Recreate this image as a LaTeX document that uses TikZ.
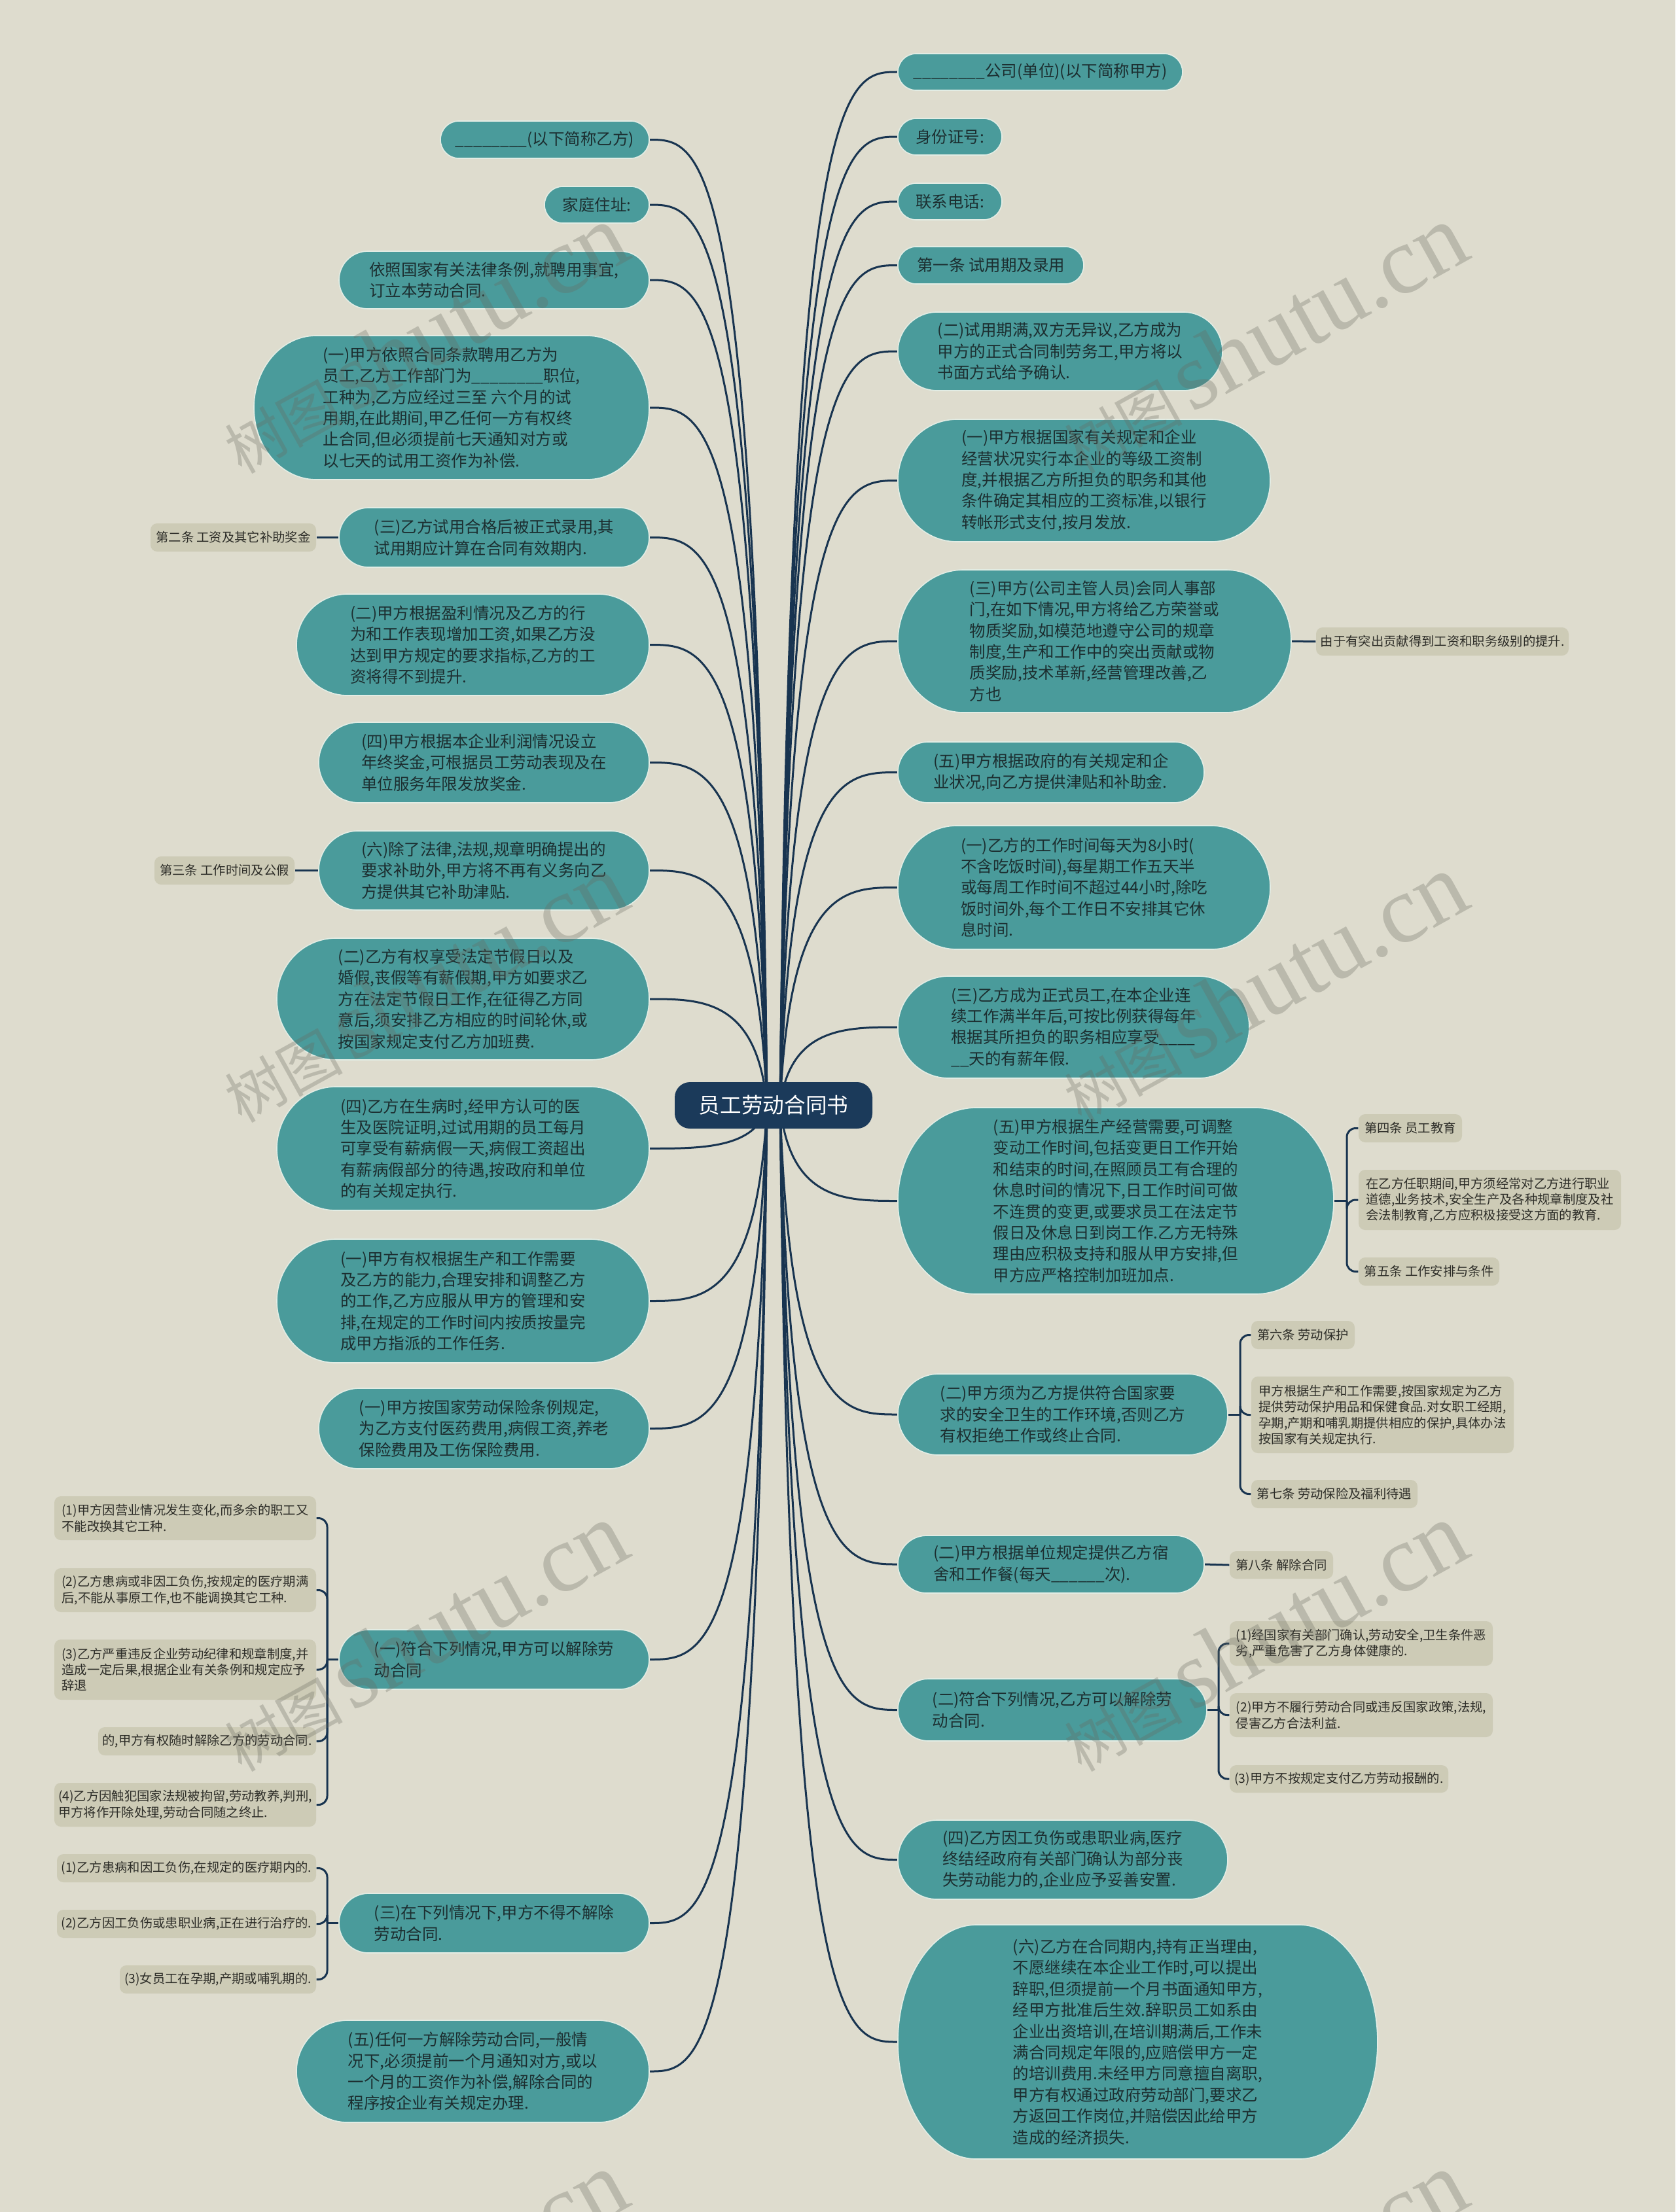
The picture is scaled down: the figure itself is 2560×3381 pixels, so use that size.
\documentclass[tikz,border=0pt]{standalone}
\usepackage{fontspec}
\setmainfont{Noto Sans CJK SC}
\newfontfamily\wmserif{Liberation Serif}
\usetikzlibrary{calc}
\pgfdeclarelayer{bgl}\pgfdeclarelayer{conn}\pgfdeclarelayer{pill}\pgfdeclarelayer{wm}
\pgfsetlayers{bgl,conn,pill,main,wm}
\definecolor{bgc}{RGB}{222,220,206}
\definecolor{tealc}{RGB}{74,155,155}
\definecolor{tealedge}{RGB}{226,236,228}
\definecolor{leafc}{RGB}{205,203,182}
\definecolor{linec}{RGB}{24,52,80}
\definecolor{rootc}{RGB}{27,58,90}
\definecolor{ttext}{RGB}{28,46,48}
\definecolor{ltext}{RGB}{45,45,40}
\definecolor{wmc}{RGB}{105,105,95}
\tikzset{
 conn/.style={draw=linec, line width=0.9pt},
 pillshape/.style={fill=tealc, draw=tealedge, line width=0.5pt},
 tnode/.style={inner sep=0pt, align=left, text=ttext, font=\fontsize{7.35pt}{9.72pt}\selectfont},
 leaf/.style={inner sep=0pt, align=left, fill=leafc, rounded corners=3pt, text=ltext, font=\fontsize{5.8pt}{7.3pt}\selectfont},
 rootbox/.style={inner sep=0pt, fill=rootc, text=white, rounded corners=7pt, minimum width=90.6pt, minimum height=21.3pt, font=\fontsize{9.8pt}{12pt}\selectfont},
 wmark/.style={text=wmc, opacity=0.3, inner sep=0pt}
}
\newcommand\tnd[7]{%
 \pgfmathsetmacro\tnL{#2-#4/2}%
 \pgfmathsetmacro\tnR{#2+#4/2}%
 \pgfmathsetmacro\tnT{#3-#5/2}%
 \pgfmathsetmacro\tnB{#3+#5/2}%
 \pgfmathsetmacro\tnA{#2-#4/2+#6}%
 \pgfmathsetmacro\tnC{#2+#4/2-#6}%
 \pgfmathsetmacro\tnU{#3-0.5523*#5/2}%
 \pgfmathsetmacro\tnD{#3+0.5523*#5/2}%
 \pgfmathsetmacro\tnAk{#2-#4/2+#6-0.5523*#6}%
 \pgfmathsetmacro\tnCk{#2+#4/2-#6+0.5523*#6}%
 \begin{pgfonlayer}{pill}
 \path[pillshape] (\tnA,\tnT) -- (\tnC,\tnT) .. controls (\tnCk,\tnT) and (\tnR,\tnU) .. (\tnR,#3) .. controls (\tnR,\tnD) and (\tnCk,\tnB) .. (\tnC,\tnB) -- (\tnA,\tnB) .. controls (\tnAk,\tnB) and (\tnL,\tnD) .. (\tnL,#3) .. controls (\tnL,\tnU) and (\tnAk,\tnT) .. (\tnA,\tnT) -- cycle;
 \end{pgfonlayer}
 \node[tnode, minimum width=#4*0.3pt, minimum height=#5*0.3pt] (#1) at (#2,#3) {#7};
}
\newcommand\lnd[6]{%
 \node[leaf, minimum width=#4*0.3pt, minimum height=#5*0.3pt] (#1) at (#2,#3) {#6};
}
\begin{document}
\begin{tikzpicture}[x=0.3pt,y=-0.3pt]
\begin{pgfonlayer}{bgl}
\fill[bgc] (0,0) rectangle (2560,3381);
\end{pgfonlayer}
\useasboundingbox (0,0) rectangle (2560,3381);

% root
\node[rootbox] (root) at (1182,1689.5) {员工劳动合同书};
\coordinate (rs) at (1192,1690);
\coordinate (ls) at (1172,1690);

% right side
\tnd{R1}{1589.5}{110}{435}{56}{28}{\_\_\_\_\_\_\_\_公司(单位)(以下简称甲方)}
\tnd{R2}{1451.5}{209}{159}{56}{28}{身份证号:}
\tnd{R3}{1451.5}{308}{159}{56}{28}{联系电话:}
\tnd{R4}{1514}{405.5}{284}{57}{28}{第一条 试用期及录用}
\tnd{R5}{1620}{537}{496}{120}{60}{(二)试用期满,双方无异议,乙方成为\\甲方的正式合同制劳务工,甲方将以\\书面方式给予确认.}
\tnd{R6}{1656.5}{734.5}{569}{187}{90}{(一)甲方根据国家有关规定和企业\\经营状况实行本企业的等级工资制\\度,并根据乙方所担负的职务和其他\\条件确定其相应的工资标准,以银行\\转帐形式支付,按月发放.}
\tnd{R7}{1672.5}{980}{601}{218}{100}{(三)甲方(公司主管人员)会同人事部\\门,在如下情况,甲方将给乙方荣誉或\\物质奖励,如模范地遵守公司的规章\\制度,生产和工作中的突出贡献或物\\质奖励,技术革新,经营管理改善,乙\\方也}
\tnd{R8}{1606}{1180.5}{468}{93}{46}{(五)甲方根据政府的有关规定和企\\业状况,向乙方提供津贴和补助金.}
\tnd{R9}{1656.5}{1356.5}{569}{189}{90}{(一)乙方的工作时间每天为8小时(\\不含吃饭时间),每星期工作五天半\\或每周工作时间不超过44小时,除吃\\饭时间外,每个工作日不安排其它休\\息时间.}
\tnd{R10}{1640.5}{1570}{537}{156}{78}{(三)乙方成为正式员工,在本企业连\\续工作满半年后,可按比例获得每年\\根据其所担负的职务相应享受\_\_\_\_\\\_\_天的有薪年假.}
\tnd{R11}{1705}{1835.5}{666}{285}{120}{(五)甲方根据生产经营需要,可调整\\变动工作时间,包括变更日工作开始\\和结束的时间,在照顾员工有合理的\\休息时间的情况下,日工作时间可做\\不连贯的变更,或要求员工在法定节\\假日及休息日到岗工作.乙方无特殊\\理由应积极支持和服从甲方安排,但\\甲方应严格控制加班加点.}
\tnd{R12}{1624}{2162}{504}{124}{62}{(二)甲方须为乙方提供符合国家要\\求的安全卫生的工作环境,否则乙方\\有权拒绝工作或终止合同.}
\tnd{R13}{1606}{2391}{468}{88}{44}{(二)甲方根据单位规定提供乙方宿\\舍和工作餐(每天\_\_\_\_\_\_次).}
\tnd{R14}{1608}{2613.5}{472}{95}{47}{(二)符合下列情况,乙方可以解除劳\\动合同.}
\tnd{R15}{1624}{2842.5}{504}{121}{60}{(四)乙方因工负伤或患职业病,医疗\\终结经政府有关部门确认为部分丧\\失劳动能力的,企业应予妥善安置.}
\tnd{R16}{1738.5}{3121}{733}{358}{120}{(六)乙方在合同期内,持有正当理由,\\不愿继续在本企业工作时,可以提出\\辞职,但须提前一个月书面通知甲方,\\经甲方批准后生效.辞职员工如系由\\企业出资培训,在培训期满后,工作未\\满合同规定年限的,应赔偿甲方一定\\的培训费用.未经甲方同意擅自离职,\\甲方有权通过政府劳动部门,要求乙\\方返回工作岗位,并赔偿因此给甲方\\造成的经济损失.}

% left side
\tnd{L1}{832.5}{213.5}{319}{57}{28}{\_\_\_\_\_\_\_\_(以下简称乙方)}
\tnd{L2}{912}{313}{160}{56}{28}{家庭住址:}
\tnd{L3}{755}{428}{474}{88}{44}{依照国家有关法律条例,就聘用事宜,\\订立本劳动合同.}
\tnd{L4}{690}{623}{604}{220}{95}{(一)甲方依照合同条款聘用乙方为\\员工,乙方工作部门为\_\_\_\_\_\_\_\_职位,\\工种为,乙方应经过三至 六个月的试\\用期,在此期间,甲乙任何一方有权终\\止合同,但必须提前七天通知对方或\\以七天的试用工资作为补偿.}
\tnd{L5}{755}{821.5}{474}{91}{45}{(三)乙方试用合格后被正式录用,其\\试用期应计算在合同有效期内.}
\tnd{L6}{722.5}{985.5}{539}{155}{78}{(二)甲方根据盈利情况及乙方的行\\为和工作表现增加工资,如果乙方没\\达到甲方规定的要求指标,乙方的工\\资将得不到提升.}
\tnd{L7}{739.5}{1165.5}{505}{123}{62}{(四)甲方根据本企业利润情况设立\\年终奖金,可根据员工劳动表现及在\\单位服务年限发放奖金.}
\tnd{L8}{739.5}{1330.5}{505}{121}{60}{(六)除了法律,法规,规章明确提出的\\要求补助外,甲方将不再有义务向乙\\方提供其它补助津贴.}
\tnd{L9}{707.5}{1527}{569}{186}{90}{(二)乙方有权享受法定节假日以及\\婚假,丧假等有薪假期,甲方如要求乙\\方在法定节假日工作,在征得乙方同\\意后,须安排乙方相应的时间轮休,或\\按国家规定支付乙方加班费.}
\tnd{L10}{707.5}{1755.5}{569}{189}{90}{(四)乙方在生病时,经甲方认可的医\\生及医院证明,过试用期的员工每月\\可享受有薪病假一天,病假工资超出\\有薪病假部分的待遇,按政府和单位\\的有关规定执行.}
\tnd{L11}{707.5}{1988.5}{569}{189}{90}{(一)甲方有权根据生产和工作需要\\及乙方的能力,合理安排和调整乙方\\的工作,乙方应服从甲方的管理和安\\排,在规定的工作时间内按质按量完\\成甲方指派的工作任务.}
\tnd{L12}{739.5}{2183.5}{505}{123}{62}{(一)甲方按国家劳动保险条例规定,\\为乙方支付医药费用,病假工资,养老\\保险费用及工伤保险费用.}
\tnd{L13}{755}{2536.5}{474}{91}{45}{(一)符合下列情况,甲方可以解除劳\\动合同}
\tnd{L14}{755}{2939.5}{474}{91}{45}{(三)在下列情况下,甲方不得不解除\\劳动合同.}
\tnd{L15}{722.5}{3166}{539}{156}{78}{(五)任何一方解除劳动合同,一般情\\况下,必须提前一个月通知对方,或以\\一个月的工资作为补偿,解除合同的\\程序按企业有关规定办理.}

% leaves right
\lnd{RL7}{2204}{980.5}{386}{43}{由于有突出贡献得到工资和职务级别的提升.}
\lnd{RL11a}{2155}{1724.5}{158}{43}{第四条 员工教育}
\lnd{RL11b}{2276.5}{1834}{401}{92}{在乙方任职期间,甲方须经常对乙方进行职业\\道德,业务技术,安全生产及各种规章制度及社\\会法制教育,乙方应积极接受这方面的教育.}
\lnd{RL11c}{2183.5}{1943.5}{215}{43}{第五条 工作安排与条件}
\lnd{RL12a}{1991}{2040.5}{158}{43}{第六条 劳动保护}
\lnd{RL12b}{2112.5}{2162.5}{401}{117}{甲方根据生产和工作需要,按国家规定为乙方\\提供劳动保护用品和保健食品.对女职工经期,\\孕期,产期和哺乳期提供相应的保护,具体办法\\按国家有关规定执行.}
\lnd{RL12c}{2039}{2283.5}{254}{43}{第七条 劳动保险及福利待遇}
\lnd{RL13}{1958}{2392}{158}{42}{第八条 解除合同}
\lnd{RL14a}{2080}{2512}{402}{68}{(1)经国家有关部门确认,劳动安全,卫生条件恶\\劣,严重危害了乙方身体健康的.}
\lnd{RL14b}{2080}{2621.5}{402}{67}{(2)甲方不履行劳动合同或违反国家政策,法规,\\侵害乙方合法利益.}
\lnd{RL14c}{2046}{2719}{334}{42}{(3)甲方不按规定支付乙方劳动报酬的.}

% leaves left
\lnd{LL5}{356.5}{821.5}{253}{43}{第二条 工资及其它补助奖金}
\lnd{LL8}{343}{1330.5}{214}{43}{第三条 工作时间及公假}
\lnd{LL13a}{283}{2320.5}{400}{67}{(1)甲方因营业情况发生变化,而多余的职工又\\不能改换其它工种.}
\lnd{LL13b}{283}{2430.5}{400}{67}{(2)乙方患病或非因工负伤,按规定的医疗期满\\后,不能从事原工作,也不能调换其它工种.}
\lnd{LL13c}{283}{2552}{400}{92}{(3)乙方严重违反企业劳动纪律和规章制度,并\\造成一定后果,根据企业有关条例和规定应予\\辞退}
\lnd{LL13d}{316.5}{2661.5}{333}{43}{的,甲方有权随时解除乙方的劳动合同.}
\lnd{LL13e}{283}{2758.5}{400}{67}{(4)乙方因触犯国家法规被拘留,劳动教养,判刑,\\甲方将作开除处理,劳动合同随之终止.}
\lnd{LL14a}{285}{2855.5}{396}{43}{(1)乙方患病和因工负伤,在规定的医疗期内的.}
\lnd{LL14b}{285}{2940.5}{396}{43}{(2)乙方因工负伤或患职业病,正在进行治疗的.}
\lnd{LL14c}{333}{3025.5}{300}{43}{(3)女员工在孕期,产期或哺乳期的.}

% connectors
\begin{pgfonlayer}{conn}
\foreach \i in {1,...,16}{\draw[conn] (rs) .. controls ($(rs|-R\i.west)+(15,0)$) and ($(rs|-R\i.west)+(100,0)$) .. (R\i.west);}
\foreach \i in {1,...,15}{\draw[conn] (ls) .. controls ($(ls|-L\i.east)+(-15,0)$) and ($(ls|-L\i.east)+(-100,0)$) .. (L\i.east);}
\draw[conn] (R7.east) -- (RL7.west);
\draw[conn] (R13.east) -- (RL13.west);
\draw[conn] (L5.west) -- (LL5.east);
\draw[conn] (L8.west) -- (LL8.east);
\coordinate (j11) at (2058,1835.5);
\draw[conn] (R11.east) -- (j11);
\foreach \s in {a,b,c}{\draw[conn,rounded corners=4pt] (j11) |- (RL11\s.west);}
\coordinate (j12) at (1895,2162);
\draw[conn] (R12.east) -- (j12);
\foreach \s in {a,b,c}{\draw[conn,rounded corners=4pt] (j12) |- (RL12\s.west);}
\coordinate (j14) at (1862,2613.5);
\draw[conn] (R14.east) -- (j14);
\foreach \s in {a,b,c}{\draw[conn,rounded corners=4pt] (j14) |- (RL14\s.west);}
\coordinate (k13) at (500,2536.5);
\draw[conn] (L13.west) -- (k13);
\foreach \s in {a,b,c,d,e}{\draw[conn,rounded corners=4pt] (k13) |- (LL13\s.east);}
\coordinate (k14) at (500,2939.5);
\draw[conn] (L14.west) -- (k14);
\foreach \s in {a,b,c}{\draw[conn,rounded corners=4pt] (k14) |- (LL14\s.east);}
\end{pgfonlayer}

% watermarks
\begin{pgfonlayer}{wm}
\foreach \wx in {647,1930}{\foreach \wy in {518,1510,2502,3494}{
 \node[wmark, rotate=29] at (\wx,\wy) {\fontsize{27pt}{27pt}\selectfont 树图\hspace{4pt}{\wmserif\fontsize{44pt}{44pt}\selectfont shutu.cn}};}}
\end{pgfonlayer}
\end{tikzpicture}
\end{document}
